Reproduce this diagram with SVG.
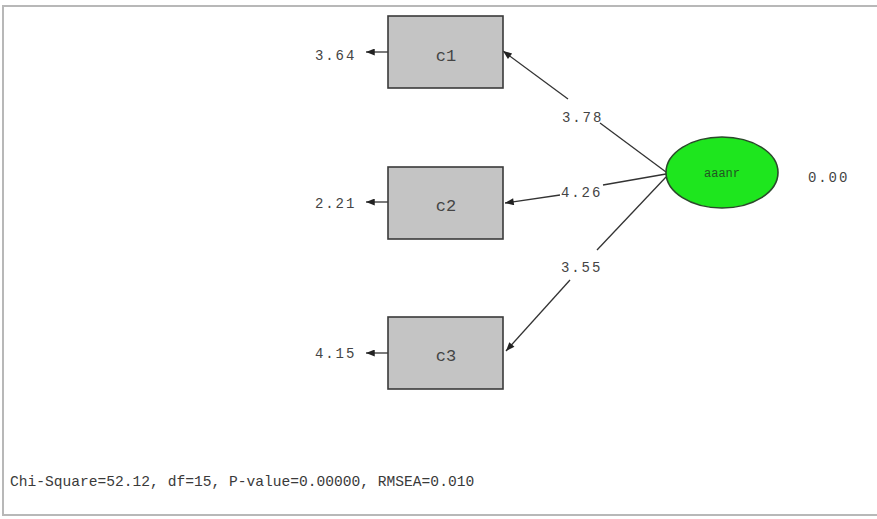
<svg xmlns="http://www.w3.org/2000/svg" width="877" height="519" viewBox="0 0 877 519">
<style>
.frame{fill:none;stroke:#b8b8b8;stroke-width:2}
.box{fill:#c4c4c4;stroke:#3a3a3a;stroke-width:1.6}
.lat{fill:#1ee61e;stroke:#2a4a2a;stroke-width:1.6}
.ln{fill:none;stroke:#333;stroke-width:1.3}
.num{font-family:"Liberation Mono",monospace;font-size:14px;fill:#444;letter-spacing:1.9px}
.nm{font-family:"Liberation Mono",monospace;font-size:17px;fill:#444;text-anchor:middle}
.ft{font-family:"Liberation Mono",monospace;font-size:14.6px;fill:#3a3a3a}
</style>
<defs>
<marker id="ah" viewBox="0 0 10 8" refX="10" refY="4" markerWidth="11" markerHeight="7" markerUnits="userSpaceOnUse" orient="auto">
<path d="M0,0 L10,4 L0,8 z" fill="#222"/>
</marker>
</defs>
<rect x="0" y="0" width="877" height="519" fill="#fff"/>
<path class="frame" d="M877,6 H3 V515 H877"/>
<g id="connectors">
<path class="ln" d="M388,52 H366" marker-end="url(#ah)"/>
<path class="ln" d="M388,202 H366" marker-end="url(#ah)"/>
<path class="ln" d="M388,353 H366" marker-end="url(#ah)"/>
<path class="ln" d="M666,172 L600,123"/>
<path class="ln" d="M568,99 L503,51" marker-end="url(#ah)"/>
<path class="ln" d="M666,174 L603,185"/>
<path class="ln" d="M560,195 L505,203" marker-end="url(#ah)"/>
<path class="ln" d="M666,177 L597,250"/>
<path class="ln" d="M570,280 L506,351" marker-end="url(#ah)"/>
<text class="num" x="562" y="122">3.78</text>
<text class="num" x="561" y="197">4.26</text>
<text class="num" x="561" y="272">3.55</text>
</g>
<g id="c1">
<rect class="box" x="388" y="16" width="115" height="72"/>
<text class="nm" x="446" y="61">c1</text>
<text class="num" x="315" y="60">3.64</text>
</g>
<g id="c2">
<rect class="box" x="388" y="167" width="115" height="72"/>
<text class="nm" x="446" y="211">c2</text>
<text class="num" x="315" y="208">2.21</text>
</g>
<g id="c3">
<rect class="box" x="388" y="317" width="115" height="72"/>
<text class="nm" x="446" y="361">c3</text>
<text class="num" x="315" y="358">4.15</text>
</g>
<g id="latent">
<ellipse class="lat" cx="722" cy="172.5" rx="56" ry="35.5"/>
<text class="nm" x="722" y="177" style="font-size:12px;fill:#225522">aaanr</text>
<text class="num" x="808" y="182">0.00</text>
</g>
<text class="ft" x="10" y="486">Chi-Square=52.12, df=15, P-value=0.00000, RMSEA=0.010</text>
</svg>
